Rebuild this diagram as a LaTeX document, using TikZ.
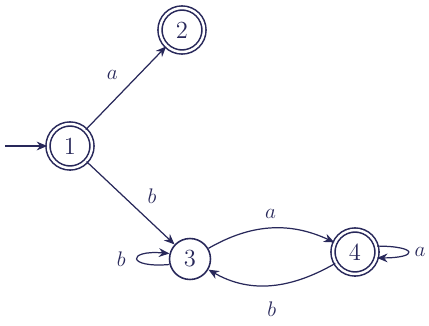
\documentclass[tikz,border=0pt]{standalone}
\usetikzlibrary{arrows.meta}
\begin{document}
\begin{tikzpicture}[x=0.02cm,y=-0.02cm,
  state/.style={circle,draw=navy,line width=0.9pt,minimum size=0.82cm,inner sep=0pt,font=\fontsize{14}{16}\selectfont,text=navy},
  accepting/.style={double=white,double distance=1.4pt,minimum size=0.88cm},
  edge/.style={draw=navy,line width=0.7pt,-{Stealth[length=6pt,width=5pt]}},
  lbl/.style={font=\fontsize{13}{15}\selectfont,text=navy}]
\definecolor{navy}{RGB}{40,40,90}
\useasboundingbox (0,0) rectangle (429,325);
\node[state,accepting] (n1) at (70,146) {1};
\node[state,accepting] (n2) at (182,30) {2};
\node[state] (n3) at (190,259) {3};
\node[state,accepting] (n4) at (355,252) {4};
\coordinate (s) at (5,146);
\draw[edge] (s) -- (n1);
\draw[edge] (n1) -- node[lbl,above left=1pt] {$a$} (n2);
\draw[edge] (n1) -- node[lbl,pos=0.6,above right=1pt] {$b$} (n3);
\draw[edge] (n3) to[out=30,in=155] node[lbl,above=2pt] {$a$} (n4);
\draw[edge] (n4) to[out=-150,in=-30] node[lbl,below=6pt] {$b$} (n3);
\draw[edge] (n3.195) to[out=185,in=175,looseness=10] node[lbl,left=3pt] {$b$} (n3.165);
\draw[edge] (n4.15) to[out=0,in=0,looseness=9] node[lbl,right=0pt] {$a$} (n4.-15);
\end{tikzpicture}
\end{document}
